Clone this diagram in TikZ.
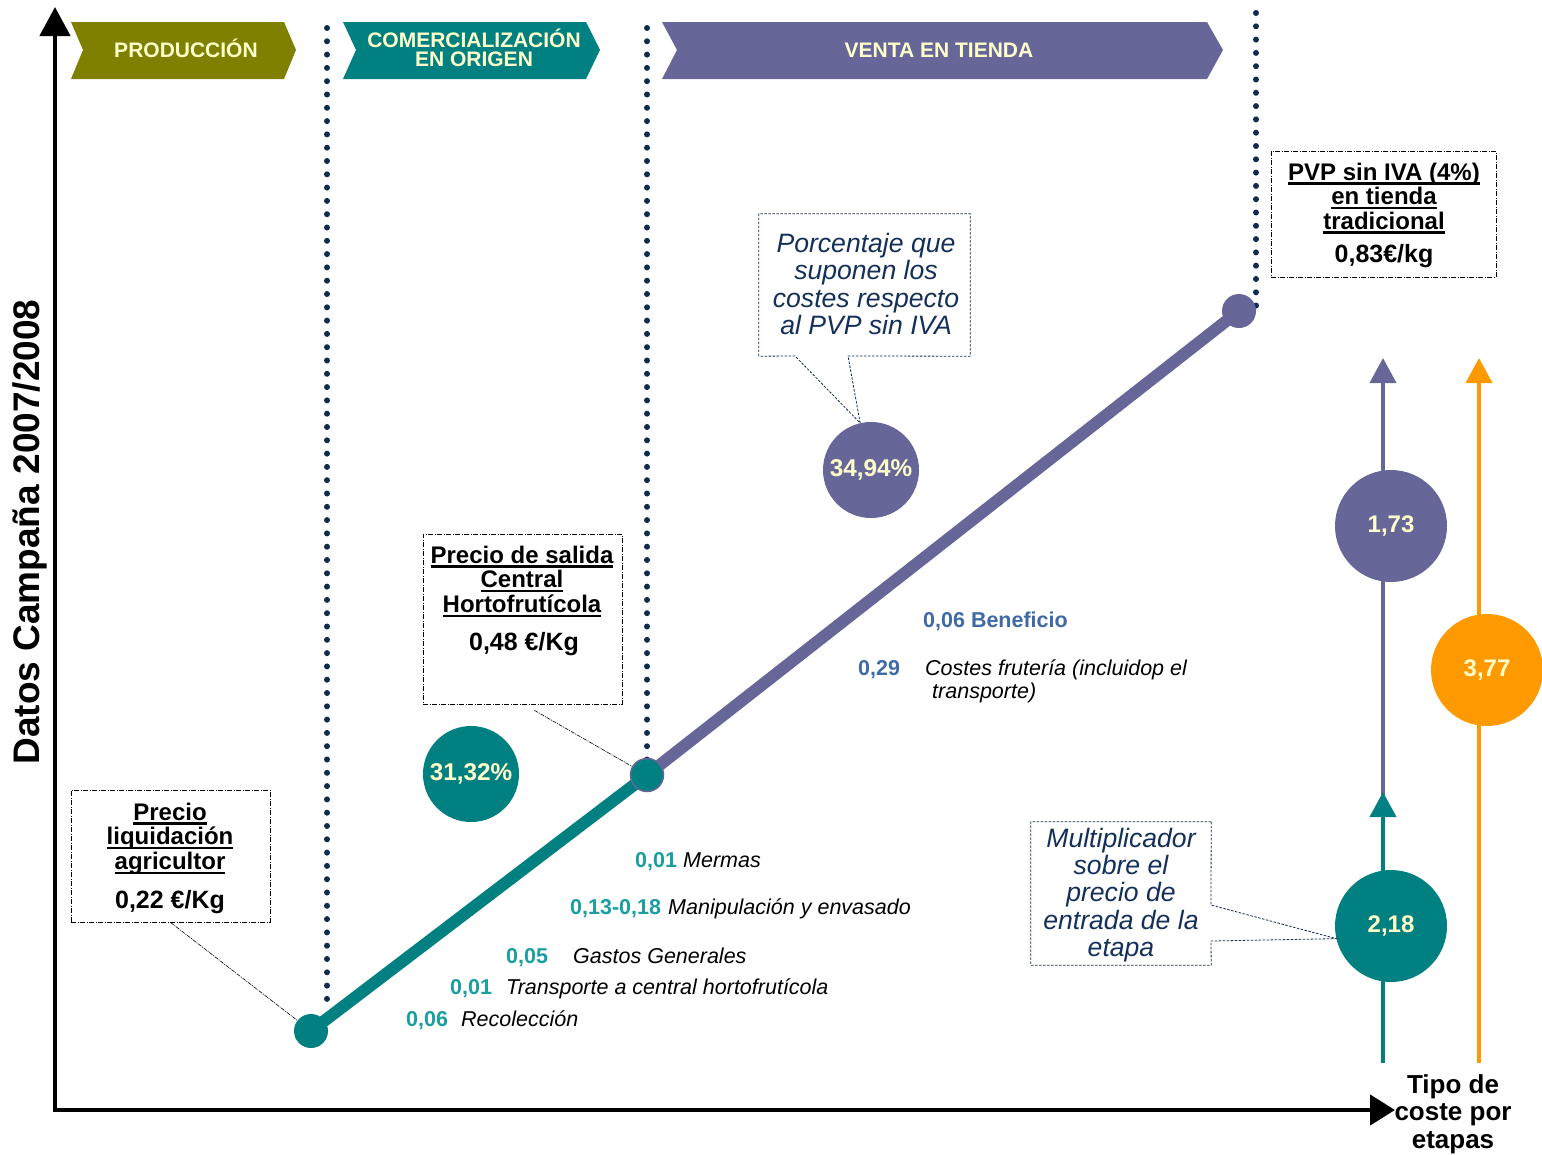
\documentclass[tikz,border=0pt]{standalone}
\usepackage{fontspec}
\setmainfont{Liberation Sans}
\usetikzlibrary{arrows.meta,calc}
\definecolor{olv}{HTML}{808000}
\definecolor{tl}{HTML}{008080}
\definecolor{pur}{HTML}{666699}
\definecolor{org}{HTML}{FF9900}
\definecolor{crm}{HTML}{FFFFCC}
\definecolor{nvy}{HTML}{0F2B50}
\definecolor{navytext}{HTML}{14305A}
\definecolor{tllab}{HTML}{1A9E9E}
\definecolor{bllab}{HTML}{3F6AA6}
\newsavebox\ulbox
\newcommand{\ulx}[1]{\sbox\ulbox{#1}\rlap{\rule[-4.5pt]{\wd\ulbox}{2.2pt}}\usebox\ulbox}
\newcommand{\stk}[1]{\begin{tabular}[t]{@{}c@{}}#1\end{tabular}}
\newcommand{\fs}[2]{\fontsize{#1}{#2}\selectfont}
\begin{document}
\begin{tikzpicture}[x=1pt,y=-1pt,
  every node/.style={inner sep=0pt},
  bannertxt/.style={anchor=base, text=crm, font=\fs{21}{20}\bfseries},
  dotline/.style={nvy, line width=6pt, line cap=round, dash pattern=on 0pt off 13.3pt},
  bubble/.style={circle, minimum size=96pt, text=crm, font=\fs{24.3}{25}\bfseries},
  bigbubble/.style={circle, minimum size=112pt, text=crm, font=\fs{24}{25}\bfseries},
  dot/.style={circle, minimum size=34pt},
  cbox/.style={draw, line width=0.8pt, dash pattern=on 5pt off 1.5pt on 1pt off 1.5pt},
  leader/.style={line width=0.6pt, dash pattern=on 4pt off 1pt on 1pt off 1pt},
  nbox/.style={nvy, line width=0.8pt, dash pattern=on 2.5pt off 1.5pt},
  boxt/.style={anchor=base, font=\fs{24}{24.5}\bfseries},
  boxv/.style={anchor=base, font=\fs{25}{26}\bfseries},
  ntxt/.style={anchor=base, text=navytext, font=\fs{26.6}{27.5}\itshape},
  lab/.style={anchor=base west, font=\fs{21.5}{23}\itshape},
  tnum/.style={anchor=base west, text=tllab, font=\fs{21.5}{23}\bfseries},
  bnum/.style={anchor=base west, text=bllab, font=\fs{21.5}{23}\bfseries},
  vert/.style={line width=4pt, -{Triangle[width=26pt,length=25pt]}}
]
\useasboundingbox (0,0) rectangle (1542,1154);

% banners
\fill[olv] (71,22) -- (284,22) -- (296,50) -- (284,79) -- (71,79) -- (83,50) -- cycle;
\fill[tl] (343,22) -- (586,22) -- (600,50) -- (586,79) -- (343,79) -- (356,50) -- cycle;
\fill[pur] (662,22) -- (1207,22) -- (1223,50) -- (1207,79) -- (662,79) -- (677,50) -- cycle;
\node[bannertxt] (prod) at (186,57) {PRODUCCIÓN};
\node[bannertxt] (com1) at (474,47) {COMERCIALIZACIÓN};
\node[bannertxt] (com2) at (474,66) {EN ORIGEN};
\node[bannertxt] (venta) at (939,57) {VENTA EN TIENDA};

% axes
\coordinate (ytip) at (55,7);
\coordinate (org) at (55,1110);
\coordinate (xtip) at (1395,1110);
\draw[line width=4.5pt, line join=miter, {Triangle[width=30pt,length=29pt]}-{Triangle[width=30pt,length=25pt]}] (ytip) -- (org) -- (xtip);
\node[rotate=90, anchor=base, font=\fs{37}{40}\bfseries] (ylab) at (39,532) {Datos Campaña 2007/2008};

% dotted separators
\coordinate (d1a) at (327,28); \coordinate (d1b) at (327,1000);
\coordinate (d2a) at (647,28); \coordinate (d2b) at (647,760);
\coordinate (d3a) at (1256,13); \coordinate (d3b) at (1256,312);
\draw[dotline] (d1a) -- (d1b);
\draw[dotline] (d2a) -- (d2b);
\draw[dotline] (d3a) -- (d3b);

% price path
\coordinate (c1) at (311,1031);
\coordinate (c2) at (647,775);
\coordinate (c3) at (1239,311);
\draw[tl, line width=12pt] (c1) -- (c2);
\draw[pur, line width=12pt] (c2) -- (c3);
\node[dot, fill=tl] (p1) at (c1) {};
\node[dot, fill=tl, draw=pur, line width=1.5pt, minimum size=33pt] (p2) at (c2) {};
\node[dot, fill=pur] (p3) at (c3) {};

% percentage bubbles
\node[bubble, fill=tl] (pa) at (471,774) {31,32\%};
\node[bubble, fill=pur] (pc) at (871,470) {34,94\%};

% box 1
\node[cbox, minimum width=199pt, minimum height=132pt] (b1) at (170.5,856) {};
\node[boxt] (b1t) at (170,820) {\stk{\ulx{Precio}\\\ulx{liquidación}\\\ulx{agricultor}}};
\node[boxv] (b1v) at (170,908) {0,22 €/Kg};
\draw[leader] (b1.south) -- (p1);

% box 2
\node[cbox, minimum width=199pt, minimum height=170pt] (b2) at (522.5,619) {};
\node[boxt] (b2t) at (522,563) {\stk{\ulx{Precio de salida}\\\ulx{Central}\\\ulx{Hortofrutícola}}};
\node[boxv] (b2v) at (524,650) {0,48 €/Kg};
\draw[leader] ([shift={(12,6)}]b2.south) -- (p2);

% box 3
\node[cbox, minimum width=225pt, minimum height=126pt] (b3) at (1383.5,214) {};
\node[boxt, font=\fs{24}{24}\bfseries] (b3t) at (1384,180) {\stk{\ulx{PVP sin IVA (4\%)}\\\ulx{en tienda}\\\ulx{tradicional}}};
\node[boxv] (b3v) at (1384,262) {0,83€/kg};

% porcentaje callout
\node[minimum width=211pt, minimum height=142pt] (pbox) at (864.5,285) {};
\draw[nbox] (pbox.south west) -- (pbox.north west) -- (pbox.north east) -- (pbox.south east) -- (848,356) -- (pc.103) -- (795,356) -- cycle;
\node[ntxt] (pboxt) at (866,252) {\stk{Porcentaje que\\suponen los\\costes respecto\\al PVP sin IVA}};

% cost labels
\node[bnum] (ben) at (923,627) {0,06 Beneficio};
\node[bnum] (n029) at (858,675) {0,29};
\node[lab] (l029) at (925,675) {Costes frutería (incluidop el};
\node[lab] (l029b) at (932,698) {transporte)};
\node[tnum] (n1) at (635,867) {0,01};
\node[lab] (l1) at (683,867) {Mermas};
\node[tnum] (n2) at (570,914) {0,13-0,18};
\node[lab] (l2) at (668,914) {Manipulación y envasado};
\node[tnum] (n3) at (506,963) {0,05};
\node[lab] (l3) at (573,963) {Gastos Generales};
\node[tnum] (n4) at (450,994) {0,01};
\node[lab] (l4) at (506,994) {Transporte a central hortofrutícola};
\node[tnum] (n5) at (406,1026) {0,06};
\node[lab] (l5) at (461,1026) {Recolección};

% right side arrows
\coordinate (ta0) at (1383,1063); \coordinate (ta1) at (1383,792);
\coordinate (pa0) at (1383,795); \coordinate (pa1) at (1383,358);
\coordinate (oa0) at (1479,1063); \coordinate (oa1) at (1479,358);
\draw[vert, pur] (pa0) -- (pa1);
\draw[vert, tl] (ta0) -- (ta1);
\draw[vert, org] (oa0) -- (oa1);
\node[bigbubble, fill=tl] (m218) at (1391,926) {2,18};
\node[bigbubble, fill=pur] (m173) at (1391,526) {1,73};
\node[bigbubble, fill=org] (m377) at (1487,670) {3,77};

% multiplicador callout
\node[minimum width=180pt, minimum height=143pt] (mbox) at (1121,893.5) {};
\draw[nbox] (mbox.north east) -- (1211,905) -- (m218.193) -- (1211,941) -- (mbox.south east) -- (mbox.south west) -- (mbox.north west) -- cycle;
\node[ntxt, font=\fs{26.6}{27}\itshape] (mboxt) at (1121,847) {\stk{Multiplicador\\sobre el\\precio de\\entrada de la\\etapa}};

% x-axis label
\node[anchor=base, font=\fs{26}{27.5}\bfseries] (xlab) at (1453,1093) {\stk{Tipo de\\coste por\\etapas}};
\end{tikzpicture}
\end{document}
